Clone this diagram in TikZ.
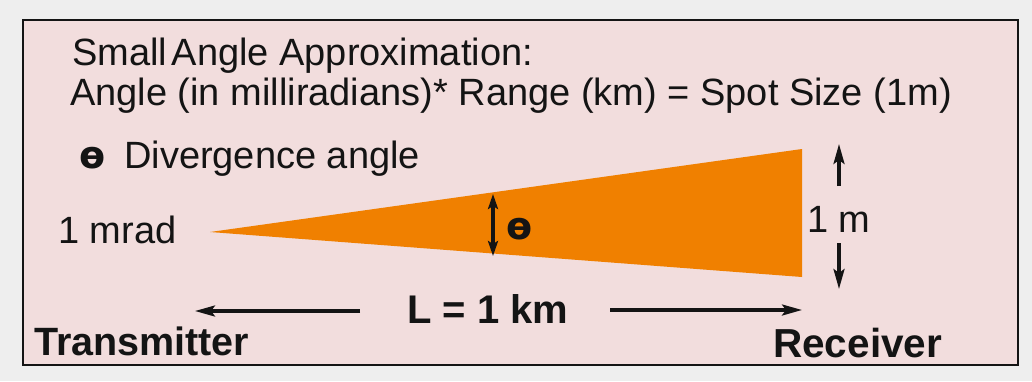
\documentclass[tikz,border=0pt]{standalone}
\usepackage{fontspec}
\setmainfont{Liberation Sans}
\newfontfamily\thfont{DejaVu Sans}
\usetikzlibrary{arrows.meta}
\definecolor{outerbg}{RGB}{238,238,238}
\definecolor{boxbg}{RGB}{242,221,221}
\definecolor{beam}{RGB}{240,128,0}
\definecolor{ink}{RGB}{20,20,20}
\begin{document}
\begin{tikzpicture}[x=1pt,y=-1pt,
  txt/.style={inner sep=0pt, anchor=base west, text=ink},
  fs/.style={font=\fontsize{#1}{#1}\selectfont},
  fb/.style={font=\fontsize{#1}{#1}\selectfont\bfseries},
  fth/.style={font=\fontsize{#1}{#1}\selectfont\thfont\bfseries},
  arr/.style={line width=3.2pt, draw=ink, -{Stealth[length=20pt,width=11pt,inset=4pt]}},
  darr/.style={line width=3.2pt, draw=ink, {Stealth[length=15pt,width=10pt,inset=3pt]}-{Stealth[length=15pt,width=10pt,inset=3pt]}}]
\fill[outerbg] (0,0) rectangle (1032,381);
\useasboundingbox (0,0) rectangle (1032,381);
\draw[line width=2.8pt, draw=ink, fill=boxbg] (23,20) rectangle (1018,365);
% texts
\node[txt, fs=38] (t1) at (72,65) {Small\kern-6pt{} Angle Approximation:};
\node[txt, fs=38] (t2) at (70,105) {Angle (in milliradians)* Range (km) = Spot Size (1m)};
\node[txt, fth=38] (th) at (79,168) {ɵ};
\node[txt, fs=38] (t3) at (124,168) {Divergence angle};
% beam
\coordinate (apex) at (210,232);
\coordinate (rt) at (802,149);
\coordinate (rb) at (802,277);
\fill[beam] (apex) -- (rt) -- (rb) -- cycle;
\node[txt, fs=38] (mrad) at (58,243) {1 mrad};
% theta arrow
\coordinate (tha) at (493,194);
\coordinate (thb) at (493,256);
\draw[darr] (tha) -- (thb);
\node[txt, fth=38] (thl) at (506,239) {ɵ};
% 1 m
\node[txt, fs=38] (onem) at (807,232) {1 m};
\coordinate (upt) at (839,186);
\coordinate (uph) at (839,144);
\coordinate (dnt) at (839,243);
\coordinate (dnh) at (839,289);
\draw[arr] (upt) -- (uph);
\draw[arr] (dnt) -- (dnh);
% L = 1 km
\node[txt, fb=40] (L) at (407,323) {L = 1 km};
\coordinate (lt) at (360,311);
\coordinate (lh) at (195,311);
\coordinate (rtl) at (610,310);
\coordinate (rh) at (802,310);
\draw[arr] (lt) -- (lh);
\draw[arr] (rtl) -- (rh);
\node[txt, fb=39.5] (tx) at (34,355) {Transmitter};
\node[txt, fb=40.5] (rx) at (773,357) {Receiver};
\end{tikzpicture}
\end{document}
